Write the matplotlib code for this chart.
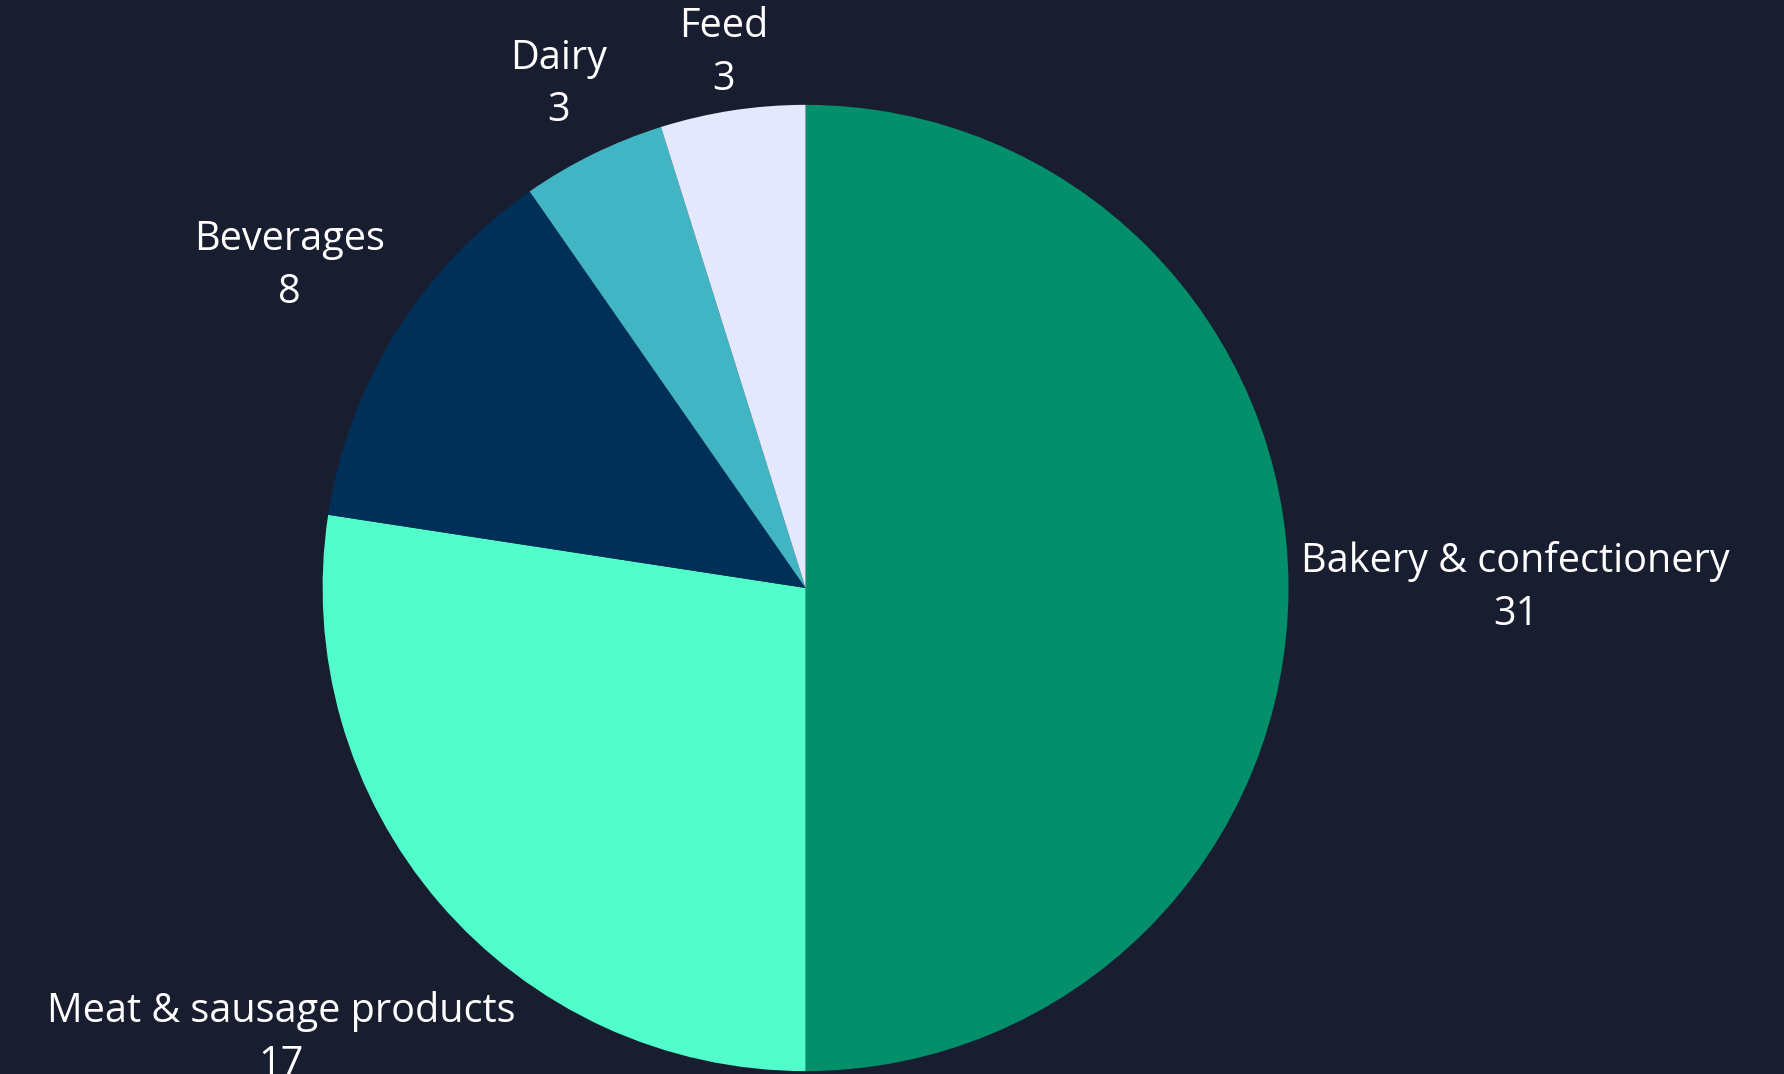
import numpy as np
import matplotlib
matplotlib.use("Agg")
import matplotlib.pyplot as plt

# food sectors and counts
categories = ["Bakery & confectionery", "Meat & sausage products", "Beverages", "Dairy", "Feed"]
counts = [31, 17, 8, 3, 3]
colors = ["#038f6a", "#50fdcb", "#003057", "#41b5c3", "#e3e8fc"]
label_dist = [1.47, 1.43, 1.26, 1.16, 1.12]

bg = "#181d30"
plt.rcParams["font.family"] = ["Open Sans", "DejaVu Sans"]

fig = plt.figure(figsize=(17.84, 10.74), dpi=100, facecolor=bg)
ax = fig.add_axes([0, 0, 1, 1])
ax.set_facecolor(bg)

wedges, _ = ax.pie(counts, colors=colors, startangle=90, counterclock=False,
                   radius=1.0, wedgeprops=dict(linewidth=0))

# labels: name and value, placed along each slice's mid angle
for w, name, val, d in zip(wedges, categories, counts, label_dist):
    mid = np.deg2rad((w.theta1 + w.theta2) / 2)
    ax.text(d * np.cos(mid), d * np.sin(mid), f"{name}\n{val}",
            ha="center", va="center", color="white", fontsize=28.5,
            linespacing=1.4)

ax.set_aspect("auto")
ax.set_xlim(-1.668, 2.026)
ax.set_ylim(-1.006, 1.217)
ax.axis("off")

fig.savefig("out.png", facecolor=bg)
